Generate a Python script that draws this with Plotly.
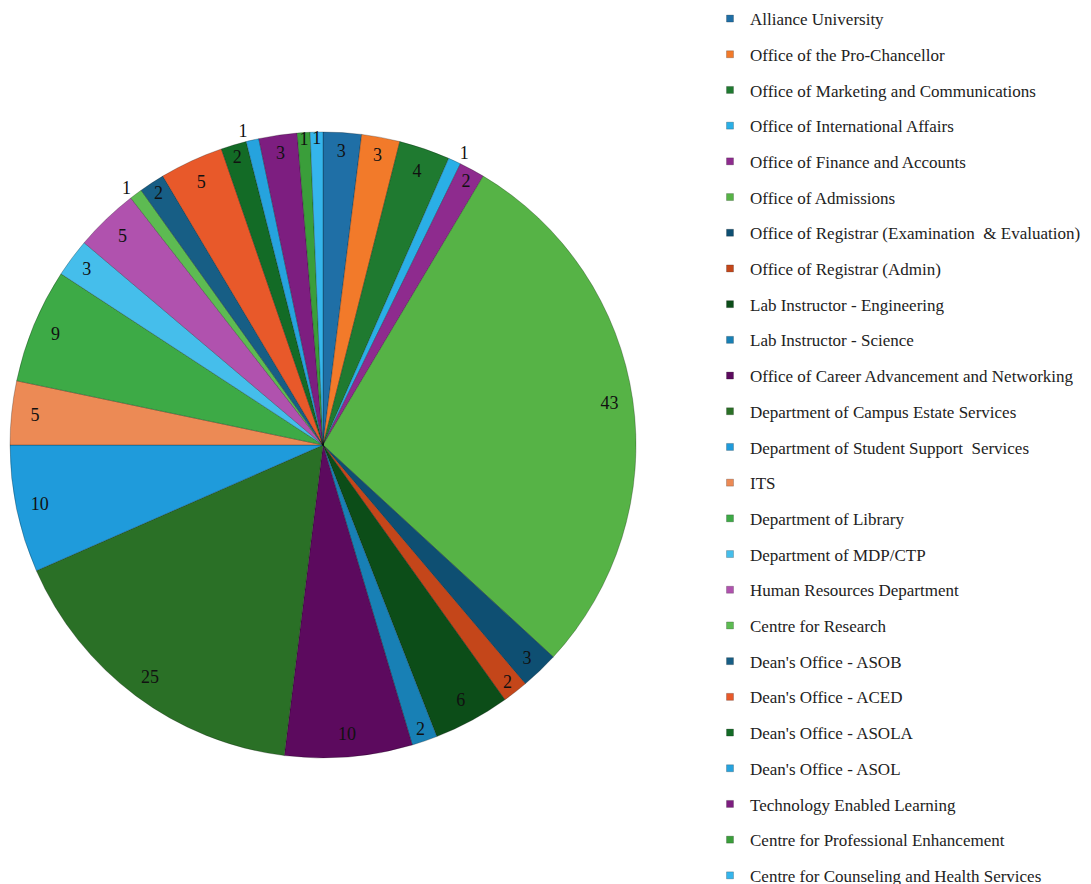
import plotly.graph_objects as go

# ── Data ─────────────────────────────────────────────────────────────────────
DEPARTMENTS = [
    "Alliance University",
    "Office of the Pro-Chancellor",
    "Office of Marketing and Communications",
    "Office of International Affairs",
    "Office of Finance and Accounts",
    "Office of Admissions",
    "Office of Registrar (Examination  & Evaluation)",
    "Office of Registrar (Admin)",
    "Lab Instructor - Engineering",
    "Lab Instructor - Science",
    "Office of Career Advancement and Networking",
    "Department of Campus Estate Services",
    "Department of Student Support  Services",
    "ITS",
    "Department of Library",
    "Department of MDP/CTP",
    "Human Resources Department",
    "Centre for Research",
    "Dean's Office - ASOB",
    "Dean's Office - ACED",
    "Dean's Office - ASOLA",
    "Dean's Office - ASOL",
    "Technology Enabled Learning",
    "Centre for Professional Enhancement",
    "Centre for Counseling and Health Services",
]

COUNTS = [3, 3, 4, 1, 2, 43, 3, 2, 6, 2, 10, 25, 10, 5, 9, 3, 5, 1, 2, 5, 2, 1, 3, 1, 1]

# labels drawn just outside the rim in the original
OUTSIDE_LABELS = ["Office of International Affairs", "Centre for Research", "Dean's Office - ASOL"]

# ── Styling ──────────────────────────────────────────────────────────────────
COLORS = [
    "#1F6FA6", "#F27A2A", "#1F7A30", "#2AAFE6", "#8E2B8E", "#56B346",
    "#0E4F72", "#C4461A", "#0C4D18", "#1880B5", "#5C0A5E", "#2A7026",
    "#1F9BDB", "#EC8A55", "#3DAA46", "#45BEEB", "#B052AE", "#5DBB52",
    "#175E85", "#E8592A", "#136B26", "#26A3DE", "#7D1E80", "#3A9E3A",
    "#35B5EC",
]

SERIF = "Liberation Serif, Times New Roman, serif"
W, H = 1091, 900   # page adds an 8px body margin; extra height keeps the tall legend unscrolled

# pie centre / radius in figure px
CX, CY, R = 315, 437, 313
dom_x = [(CX - R) / W, (CX + R) / W]
dom_y = [(H - CY - R) / H, (H - CY + R) / H]

fig = go.Figure()

# main pie (no text)
fig.add_trace(go.Pie(
    labels=DEPARTMENTS, values=COUNTS,
    sort=False, direction="clockwise", rotation=0,
    marker=dict(colors=COLORS, line=dict(color="rgba(0,0,0,0.35)", width=0.7)),
    textinfo="none",
    domain=dict(x=dom_x, y=dom_y),
    showlegend=False,
))

# transparent ring on top, only used to place value labels near the rim
fig.add_trace(go.Pie(
    labels=DEPARTMENTS, values=COUNTS,
    sort=False, direction="clockwise", rotation=0, hole=0.85,
    marker=dict(colors=["rgba(0,0,0,0)"] * len(COUNTS), line=dict(width=0)),
    textinfo="value",
    textposition=["outside" if d in OUTSIDE_LABELS else "inside" for d in DEPARTMENTS],
    insidetextorientation="horizontal",
    textfont=dict(family=SERIF, size=18, color="#111111"),
    domain=dict(x=dom_x, y=dom_y),
    hoverinfo="skip",
    showlegend=False,
))

# legend entries (one group each so the spacing can be opened up)
for name, col in zip(DEPARTMENTS, COLORS):
    fig.add_trace(go.Scatter(
        x=[None], y=[None], mode="markers", name=name, legendgroup=name,
        marker=dict(symbol="square", size=7, color=col,
                    line=dict(color="rgba(0,0,0,0.4)", width=0.5)),
    ))

fig.update_layout(
    width=W, height=H,
    margin=dict(l=0, r=0, t=0, b=0, autoexpand=False),
    paper_bgcolor="white", plot_bgcolor="white",
    xaxis=dict(visible=False), yaxis=dict(visible=False),
    uniformtext=dict(minsize=18, mode="show"),
    font=dict(family=SERIF, size=17, color="#222222"),
    legend=dict(
        x=702 / W, xanchor="left", y=1 + 7 / H, yanchor="top",
        traceorder="grouped", tracegroupgap=10.6, maxheight=1200,
        font=dict(family=SERIF, size=17, color="#222222"),
        bgcolor="rgba(0,0,0,0)",
    ),
)

fig.write_html("out.html")
